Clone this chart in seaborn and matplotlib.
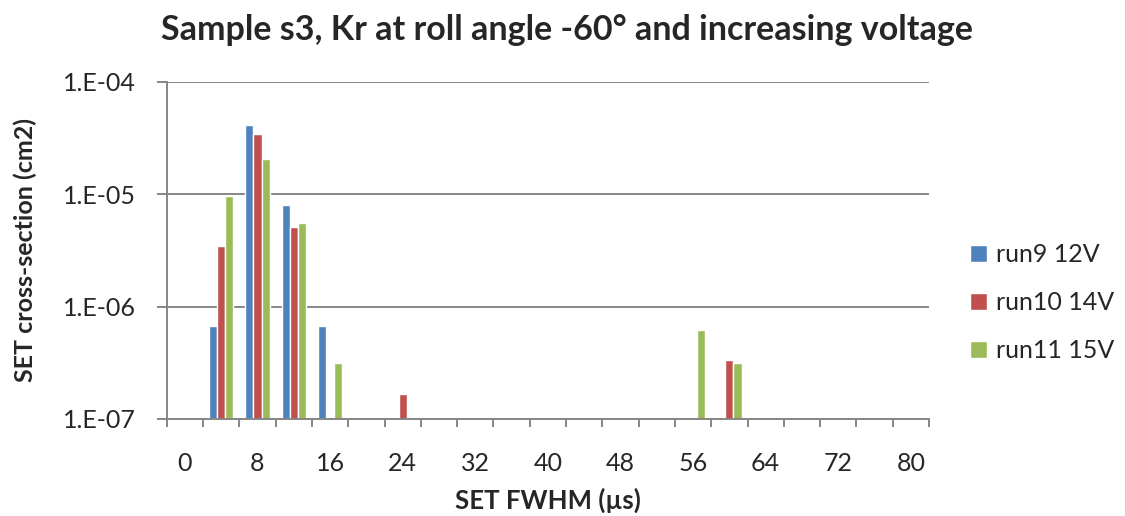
import numpy as np
import pandas as pd
import matplotlib
matplotlib.use("Agg")
import matplotlib.pyplot as plt
from matplotlib.ticker import NullLocator
import seaborn as sns

# SET FWHM bins (µs) and cross-section per run (cm2); NaN = no events in bin
fwhm_bins = [0, 4, 8, 12, 16, 20, 24, 28, 32, 36, 40, 44, 48, 52, 56, 60, 64, 68, 72, 76, 80]
nan = np.nan
run9_12v = [nan, 6.7e-7, 4.15e-5, 8.1e-6, 6.7e-7, nan, nan, nan, nan, nan, nan,
            nan, nan, nan, nan, nan, nan, nan, nan, nan, nan]
run10_14v = [nan, 3.5e-6, 3.47e-5, 5.15e-6, nan, nan, 1.67e-7, nan, nan, nan, nan,
             nan, nan, nan, nan, 3.35e-7, nan, nan, nan, nan, nan]
run11_15v = [nan, 9.7e-6, 2.08e-5, 5.6e-6, 3.12e-7, nan, nan, nan, nan, nan, nan,
             nan, nan, nan, 6.25e-7, 3.14e-7, nan, nan, nan, nan, nan]
series_names = ["run9 12V", "run10 14V", "run11 15V"]
series_colors = ["#4F81BD", "#C0504D", "#9BBB59"]

y_ticks = [1e-7, 1e-6, 1e-5, 1e-4]
y_tick_labels = ["1.E-07", "1.E-06", "1.E-05", "1.E-04"]

title = "Sample s3, Kr at roll angle -60° and increasing voltage"
x_label = "SET FWHM (µs)"
y_label = "SET cross-section (cm2)"

# long-form table for seaborn
cats = [str(b) for b in fwhm_bins]
rows = []
for name, vals in zip(series_names, [run9_12v, run10_14v, run11_15v]):
    for c, v in zip(cats, vals):
        rows.append({"bin": c, "run": name, "xs": v})
df = pd.DataFrame(rows)

sns.set_style("white")
plt.rcParams["font.family"] = ["Lato", "DejaVu Sans"]

fig = plt.figure(figsize=(11.25, 5.16), dpi=100)
ax = fig.add_axes([0.1482, 0.188, 0.6776, 0.6531])

sns.barplot(data=df, x="bin", y="xs", hue="run", order=cats,
            hue_order=series_names, palette=series_colors, width=0.67,
            errorbar=None, saturation=1, ax=ax, legend=True)

ax.set_yscale("log")
ax.set_ylim(1e-7, 1e-4)
ax.yaxis.set_minor_locator(NullLocator())
ax.set_yticks(y_ticks, labels=y_tick_labels)
ax.set_xlim(-0.5, len(cats) - 0.5)

grey = "#868686"
ax.grid(axis="y", color=grey, linewidth=1.4)
ax.set_axisbelow(True)
for s in ["top", "right"]:
    ax.spines[s].set_visible(False)
for s in ["left", "bottom"]:
    ax.spines[s].set_color(grey)
    ax.spines[s].set_linewidth(1.4)

# tick marks on category boundaries, labels on every other category
ax.set_xticks(np.arange(-0.5, len(cats), 1.0), labels=[""] * (len(cats) + 1))
ax.set_xticks(np.arange(0, len(cats), 2), labels=cats[::2], minor=True)
ax.tick_params(axis="x", which="major", direction="out", length=6, width=1.4,
               color=grey, bottom=True)
ax.tick_params(axis="x", which="minor", length=0, pad=24, labelsize=18)
ax.tick_params(axis="y", which="major", direction="out", length=7, width=1.4,
               color=grey, left=True, labelsize=18, pad=15)

ax.set_xlabel(x_label, fontsize=18.5, fontweight="bold", labelpad=9)
ax.set_ylabel(y_label, fontsize=18, fontweight="bold", labelpad=19)
fig.text(0.5036, 0.942, title, ha="center", va="center", fontsize=24.5,
         fontweight="bold")

handles, labels = ax.get_legend_handles_labels()
ax.legend(handles, labels, loc="center left",
          bbox_to_anchor=(970 / 1125, 0.4128), bbox_transform=fig.transFigure,
          frameon=False, fontsize=18, handlelength=0.68, handleheight=0.68,
          handletextpad=0.35, labelspacing=1.0, borderpad=0, borderaxespad=0)

fig.savefig("out.png", dpi=100)
